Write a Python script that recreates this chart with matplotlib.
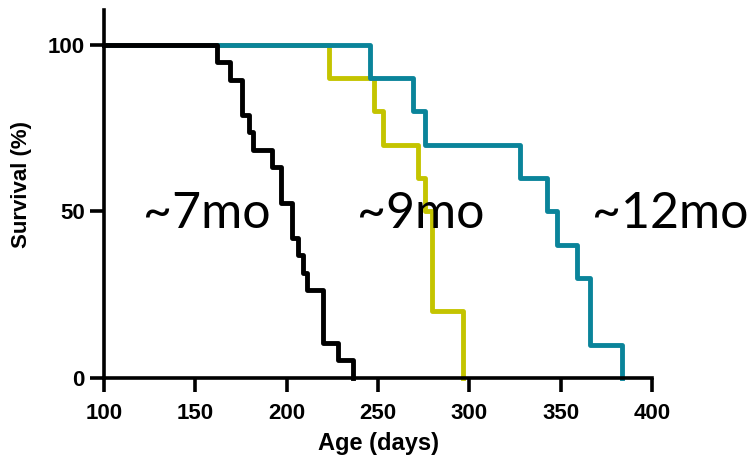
import matplotlib.pyplot as plt

# Kaplan-Meier steps: (day of drop, survival after drop)
black_days = [100, 162, 169, 175.5, 179.5, 181.5, 192, 197, 203, 206, 209, 211, 220, 228, 236]
black_surv = [100, 94.7, 89.5, 78.9, 73.7, 68.4, 63.2, 52.6, 42.1, 36.8, 31.6, 26.3, 10.5, 5.3, 0]

yellow_days = [100, 223, 248, 252.5, 272, 275.5, 279.5, 296.5]
yellow_surv = [100, 90, 80, 70, 60, 50, 20, 0]

teal_days = [100, 245.5, 269, 275.5, 327.5, 342.5, 348, 359, 366, 383.5]
teal_surv = [100, 90, 80, 70, 60, 50, 40, 30, 10, 0]

labels = ["~7mo", "~9mo", "~12mo"]
label_x = [156, 273.5, 410]

x_ticks = [100, 150, 200, 250, 300, 350, 400]
y_ticks = [0, 50, 100]

fig = plt.figure(figsize=(7.54, 4.62), dpi=100)
ax = fig.add_axes([0.138, 0.182, 0.727, 0.797])

ax.step(yellow_days, yellow_surv, where="post", color="#C4C400", lw=3.5, clip_on=False)
ax.step(teal_days, teal_surv, where="post", color="#0A849A", lw=3.5, clip_on=False)
ax.step(black_days, black_surv, where="post", color="black", lw=3.5, clip_on=False)

for txt, x in zip(labels, label_x):
    ax.text(x, 45, txt, ha="center", va="baseline", fontsize=36,
            family=["Lato", "DejaVu Sans"], fontweight="normal")

ax.set_xlim(100, 400)
ax.set_ylim(0, 110.5)
ax.set_xticks(x_ticks)
ax.set_yticks(y_ticks)

for side in ["top", "right"]:
    ax.spines[side].set_visible(False)
for side in ["left", "bottom"]:
    ax.spines[side].set_linewidth(2.6)
ax.spines["left"].set_bounds(0, 110.5)

ax.tick_params(width=2.6, length=10, labelsize=16)
ax.tick_params(axis="x", pad=8)
ax.tick_params(axis="y", pad=4)
for lbl in ax.get_xticklabels() + ax.get_yticklabels():
    lbl.set_fontweight("bold")
    lbl.set_family("Liberation Sans")

ax.set_xlabel("Age (days)", fontsize=17, fontweight="bold", family="Liberation Sans", labelpad=6)
ax.set_ylabel("Survival (%)", fontsize=16, fontweight="bold", family="Liberation Sans")
ax.yaxis.set_label_coords(-0.131, 0.524)

fig.savefig("out.png", dpi=100)
